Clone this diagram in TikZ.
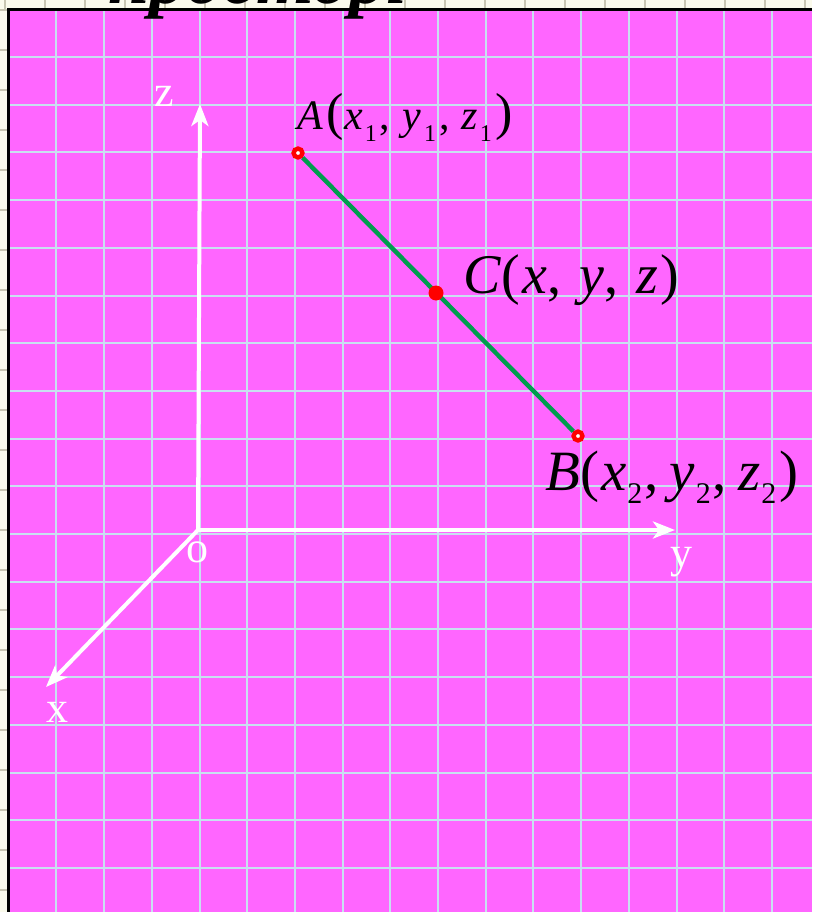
\documentclass[tikz,border=0pt]{standalone}
\usepackage{fontspec}
\setmainfont{Liberation Serif}
\usetikzlibrary{arrows.meta}
\definecolor{mag}{RGB}{255,102,255}
\definecolor{gridc}{RGB}{200,224,240}
\definecolor{cream}{RGB}{250,250,236}
\definecolor{creamline}{RGB}{200,198,178}
\definecolor{segc}{RGB}{0,156,78}
\definecolor{ptred}{RGB}{255,0,0}
\newcommand{\subA}[1]{\raisebox{-12pt}{\fontsize{24}{24}\selectfont #1}}
\newcommand{\subB}[1]{\raisebox{-13pt}{\fontsize{30}{30}\selectfont #1}}
\newcommand{\bigpar}[1]{{\fontsize{52}{52}\selectfont #1}}
\tikzset{
  axisline/.style={white, line width=4pt, -{Stealth[length=22pt,width=17pt,inset=6pt]}},
  axislabel/.style={white, anchor=base, inner sep=0pt, font=\fontsize{44}{44}\selectfont},
  ringpt/.style={circle, fill=white, draw=ptred, line width=4.4pt, inner sep=0pt, minimum size=8.8pt},
  dotpt/.style={circle, fill=ptred, inner sep=0pt, minimum size=15pt},
  seg/.style={segc, line width=4.4pt},
  ptlabel/.style={anchor=base west, inner sep=0pt, text=black},
  gridline/.style={gridc, line width=2pt},
  creamgrid/.style={creamline, line width=1.5pt}
}
\begin{document}
\begin{tikzpicture}[x=1pt,y=-1pt]
\useasboundingbox (0,0) rectangle (812,912);
% paper
\fill[cream] (0,0) rectangle (812,912);
\foreach \x in {5,45,...,805} \draw[creamgrid] (\x,0) -- (\x,10);
\foreach \y in {10,50,...,890} \draw[creamgrid] (0,\y) -- (9,\y);
% magenta board
\fill[mag] (8.7,9.3) rectangle (812,912);
\foreach \i in {1,...,16} \draw[gridline] ({8.7+47.7*\i},9.3) -- ({8.7+47.7*\i},912);
\foreach \i in {1,...,18} \draw[gridline] (8.7,{9.3+47.7*\i}) -- (812,{9.3+47.7*\i});
\draw[black, line width=3pt] (8.7,912) -- (8.7,9.3) -- (812,9.3);
% cut-off heading
\node[anchor=base west, inner sep=0pt, font=\fontsize{74}{78}\selectfont\bfseries\itshape] (title) at (108,4) {просторі};
% axes
\coordinate (O) at (198,530);
\coordinate (Zt) at (200,104);
\coordinate (Yt) at (675,530);
\coordinate (Xt) at (46,687);
\draw[axisline] (O) -- (Zt);
\draw[axisline] (O) -- (Yt);
\draw[axisline] (O) -- (Xt);
\node[axislabel] (zl) at (164,107) {z};
\node[axislabel] (ol) at (197,562) {o};
\node[axislabel] (yl) at (681,567) {y};
\node[axislabel] (xl) at (57,722) {x};
% points and segment
\node[ringpt] (A) at (298,153) {};
\node[ringpt] (B) at (578,436) {};
\draw[seg] (A) -- (B);
\node[dotpt] (C) at (436,293) {};
% labels
\node[ptlabel, font=\fontsize{42}{42}\selectfont] (Al) at (297,130)
  {\textit{A}\kern3pt\bigpar{(}\kern1pt\textit{x}\kern2pt\subA{1}\kern3pt,\kern12pt\textit{y}\kern3pt\subA{1}\kern3pt,\kern12pt\textit{z}\kern2pt\subA{1}\kern4pt\bigpar{)}};
\node[ptlabel, font=\fontsize{56}{56}\selectfont] (Cl) at (463,293)
  {\textit{C}(\kern3pt\textit{x},\kern18pt\textit{y},\kern18pt\textit{z}\kern2pt)};
\node[ptlabel, font=\fontsize{57}{57}\selectfont] (Bl) at (545,490)
  {\textit{B}(\kern2pt\textit{x}\kern1pt\subB{2}\kern2pt,\kern11pt\textit{y}\kern1pt\subB{2}\kern2pt,\kern11pt\textit{z}\kern1pt\subB{2}\kern3pt)};
\end{tikzpicture}
\end{document}
